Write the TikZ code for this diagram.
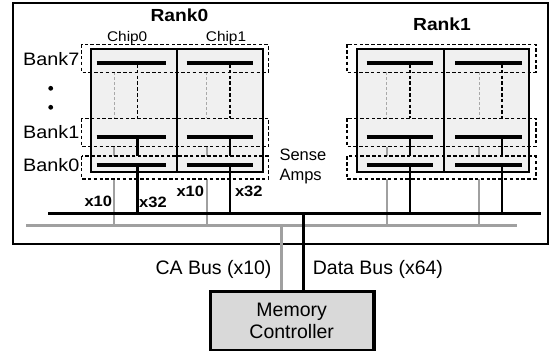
\documentclass[tikz,border=0pt]{standalone}
\usepackage{fontspec}
\setmainfont{Liberation Sans}
\definecolor{chipfill}{HTML}{F0F0F0}
\definecolor{mcfill}{HTML}{D9D9D9}
\definecolor{wiregray}{HTML}{A0A0A0}
\definecolor{dashgray}{HTML}{A8A8A8}
\begin{document}
\begin{tikzpicture}[x=1pt,y=-1pt,
  outerbox/.style={draw=black,line width=2pt},
  chipbox/.style={draw=black,line width=2.2pt},
  bankbox/.style={draw=black,line width=1.6pt,dash pattern=on 3.5pt off 2.3pt},
  bar/.style={line width=4pt},
  wireb/.style={draw=black,line width=2.2pt},
  wireg/.style={draw=wiregray,line width=2.2pt},
  dashb/.style={draw=black,line width=1.8pt,dash pattern=on 3.5pt off 2.3pt},
  dashg/.style={draw=dashgray,line width=1.2pt,dash pattern=on 3pt off 2pt},
  busb/.style={draw=black,line width=3pt},
  busg/.style={draw=wiregray,line width=3pt},
  lbl/.style={inner sep=0pt,font=\fontsize{19.5}{22}\selectfont},
  rlbl/.style={inner sep=0pt,xscale=1.1,font=\fontsize{17.5}{20}\selectfont\bfseries},
  clbl/.style={inner sep=0pt,xscale=1.1,font=\fontsize{14}{16}\selectfont},
  blbl/.style={inner sep=0pt,xscale=1.1,font=\fontsize{18}{20}\selectfont},
  xlbl/.style={inner sep=0pt,xscale=1.1,font=\fontsize{15}{17}\selectfont\bfseries},
  slbl/.style={inner sep=0pt,font=\fontsize{16.5}{20.7}\selectfont},
  mcbox/.style={draw=black,line width=2.2pt,fill=mcfill,inner sep=0pt,
    minimum width=162.6pt,minimum height=57.7pt}
]
\useasboundingbox (0,0) rectangle (552,351);

% outer rank box
\draw[outerbox] (13,3) rectangle (548,243.5);

% chips
\foreach \L/\R/\bl/\br/\xg/\xb in {
  90.7/177.3/96.7/165.7/114.3/137.5,
  177.3/263.3/186.7/253.3/206.7/230,
  357.3/444/366.7/433.3/386.7/410,
  444/529.3/455/522.3/479.3/502.3}{
  \fill[chipfill] (\L,49) rectangle (\R,172);
  \draw[dashg] (\xg,72.3) -- (\xg,118.3);
  \draw[dashb] (\xb,64) -- (\xb,118.3);
  \draw[wireg] (\xg,146.5) -- (\xg,156.2);
  \draw[wireb] (\xb,136.7) -- (\xb,156.2);
  \draw[bar] (\bl,62.7) -- (\br,62.7);
  \draw[bar] (\bl,136.7) -- (\br,136.7);
  \draw[bar] (\bl,164.5) -- (\br,164.5);
  \draw[wireg] (\xg,178.8) -- (\xg,225.7);
  \draw[wireb] (\xb,164.5) -- (\xb,213.3);
}
\foreach \L/\R in {90.7/177.3,177.3/263.3,357.3/444,444/529.3}{
  \draw[chipbox] (\L,49) rectangle (\R,172);
}

% bank boxes
\foreach \L/\R in {81.5/268.5,346.7/535.7}{
  \draw[bankbox] (\L,44.3) rectangle (\R,72.3);
  \draw[bankbox] (\L,118.3) rectangle (\R,146.5);
  \draw[bankbox] (\L,156.2) rectangle (\R,178.8);
}

% buses
\coordinate (gbusL) at (26,225.7);
\coordinate (gbusR) at (517.3,225.7);
\coordinate (dbusL) at (48.3,213.3);
\coordinate (dbusR) at (540.7,213.3);
\coordinate (catap) at (281.5,225.7);
\coordinate (dtap) at (303.3,213.3);
\draw[busg] (gbusL) -- (gbusR);
\draw[busb] (dbusL) -- (dbusR);

% memory controller
\node[mcbox] (mc) at (292,321.15) {};
\draw[busg] (catap) -- (catap |- mc.north);
\draw[busb] (dtap) -- (dtap |- mc.north);
\draw[line width=2.2pt] (mc.north west) rectangle (mc.south east);
\node[lbl,anchor=base] (mc1) at (291.7,316) {Memory};
\node[lbl,anchor=base] (mc2) at (291.7,338.3) {Controller};

% labels
\node[rlbl,anchor=base] (rk0) at (179.4,21.7) {Rank0};
\node[rlbl,anchor=base] (rk1) at (442,30) {Rank1};
\node[clbl,anchor=base] (ch0) at (127.2,41.7) {Chip0};
\node[clbl,anchor=base] (ch1) at (226,41.7) {Chip1};
\node[blbl,anchor=base east] (b7) at (79.5,65.7) {Bank7};
\node[blbl,anchor=base east] (b1) at (79.5,138.3) {Bank1};
\node[blbl,anchor=base east] (b0) at (79.5,171.7) {Bank0};
\fill (50.7,88.3) circle (2.4) (50.7,107.3) circle (2.4);
\node[xlbl,anchor=base] (xa) at (98.3,206.7) {x10};
\node[xlbl,anchor=base] (xb) at (153,207.3) {x32};
\node[xlbl,anchor=base] (xc) at (190.3,196.7) {x10};
\node[xlbl,anchor=base] (xd) at (248.8,196.2) {x32};
\node[slbl,anchor=base west] (sa1) at (279.3,160) {Sense};
\node[slbl,anchor=base west] (sa2) at (279.3,180.7) {Amps};
\node[lbl,anchor=base east] (cab) at (271.7,274.8) {CA Bus (x10)};
\node[lbl,anchor=base west] (dab) at (312.7,274.8) {Data Bus (x64)};
\end{tikzpicture}
\end{document}
